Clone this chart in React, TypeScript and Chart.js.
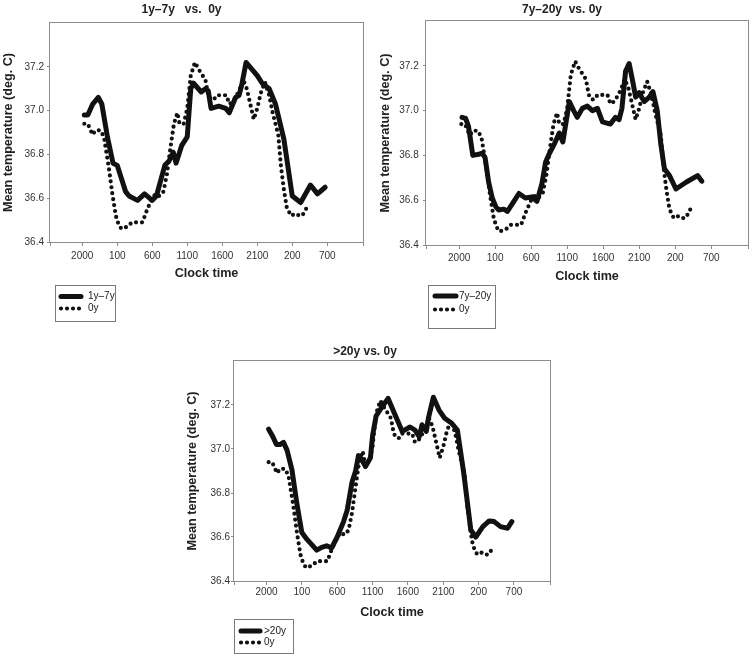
import React, { useEffect, useRef } from "react";
import { Chart, registerables } from "chart.js";

Chart.register(...registerables);

const FONT = "'Liberation Sans', Arial, Helvetica, sans-serif";

// x axis: clock hours counted from midnight of day 1 (25 = 01:00 next day)
const tickHours = [20, 25, 30, 35, 40, 45, 50, 55];
const timeTickLabels = ["2000", "100", "600", "1100", "1600", "2100", "200", "700"];
const yTicks = [36.4, 36.6, 36.8, 37.0, 37.2];

const hours0y = [20.3, 20.8, 21.2, 21.5, 21.9, 22.6, 23.1, 23.5, 23.8, 24.3, 24.8, 25.2, 25.6, 26.0, 26.5, 27.1, 27.8, 28.6, 29.3, 30.0, 30.5, 31.0, 31.6, 32.1, 32.6, 33.1, 33.6, 33.9, 34.5, 35.0, 35.5, 36.1, 36.6, 37.2, 37.6, 38.0, 38.4, 38.8, 39.2, 40.0, 40.6, 41.0, 41.5, 41.9, 42.4, 43.0, 43.5, 44.0, 44.5, 45.0, 45.5, 46.1, 46.7, 47.2, 48.0, 48.4, 48.8, 49.2, 49.8, 50.5, 51.0, 51.4, 51.8, 52.1];
const temp0y = [36.94, 36.94, 36.91, 36.89, 36.91, 36.91, 36.88, 36.80, 36.74, 36.62, 36.52, 36.48, 36.46, 36.465, 36.47, 36.49, 36.49, 36.49, 36.55, 36.60, 36.62, 36.61, 36.63, 36.71, 36.83, 36.94, 36.99, 36.94, 36.94, 37.01, 37.16, 37.22, 37.19, 37.16, 37.14, 37.07, 37.05, 37.05, 37.07, 37.07, 37.07, 37.03, 37.04, 37.06, 37.09, 37.14, 37.10, 37.03, 36.96, 37.01, 37.08, 37.13, 37.07, 36.99, 36.89, 36.74, 36.64, 36.56, 36.52, 36.53, 36.52, 36.52, 36.54, 36.56];

const hours1to7 = [20.3, 20.8, 21.5, 22.3, 22.8, 23.6, 24.4, 25.0, 25.5, 26.2, 26.7, 27.9, 28.9, 30.0, 30.6, 31.8, 32.4, 33.0, 33.4, 34.2, 35.0, 35.5, 35.9, 37.0, 37.6, 38.0, 38.4, 39.5, 40.5, 41.0, 41.9, 42.4, 42.8, 43.4, 45.0, 45.7, 46.7, 47.6, 48.8, 50.0, 51.2, 52.6, 53.6, 54.7];
const temp1to7 = [36.98, 36.98, 37.03, 37.06, 37.03, 36.88, 36.76, 36.75, 36.70, 36.63, 36.61, 36.59, 36.62, 36.59, 36.61, 36.75, 36.77, 36.81, 36.76, 36.84, 36.88, 37.10, 37.125, 37.085, 37.10, 37.09, 37.01, 37.02, 37.01, 36.99, 37.06, 37.07, 37.12, 37.22, 37.16, 37.125, 37.10, 37.03, 36.87, 36.61, 36.58, 36.66, 36.62, 36.65];

const hours7to20 = [20.4, 20.9, 21.3, 21.9, 22.7, 23.2, 23.6, 24.1, 24.6, 25.1, 25.5, 26.2, 26.7, 27.4, 28.3, 29.2, 30.1, 30.8, 31.5, 32.0, 32.4, 33.2, 33.9, 34.4, 34.9, 35.3, 35.9, 36.4, 37.1, 37.8, 38.5, 39.2, 39.9, 41.0, 41.7, 42.2, 42.6, 43.1, 43.6, 44.1, 44.5, 45.0, 45.7, 46.4, 46.9, 47.5, 48.0, 48.5, 49.2, 50.1, 51.5, 53.1, 53.7];
const temp7to20 = [36.97, 36.965, 36.93, 36.80, 36.805, 36.81, 36.79, 36.68, 36.61, 36.57, 36.556, 36.56, 36.55, 36.585, 36.63, 36.61, 36.615, 36.595, 36.675, 36.77, 36.80, 36.85, 36.90, 36.86, 36.96, 37.04, 37.00, 36.97, 37.01, 37.02, 37.00, 37.01, 36.95, 36.94, 36.97, 36.96, 37.01, 37.175, 37.21, 37.13, 37.06, 37.08, 37.04, 37.06, 37.085, 37.00, 36.85, 36.74, 36.71, 36.65, 36.68, 36.71, 36.685];

const hoursOver20 = [20.3, 20.9, 21.4, 21.9, 22.4, 22.9, 23.6, 24.3, 25.0, 25.7, 26.4, 27.1, 27.8, 28.5, 29.2, 30.0, 30.9, 31.4, 32.1, 32.6, 33.0, 33.5, 34.0, 34.7, 35.0, 35.5, 36.2, 37.2, 38.3, 39.2, 40.3, 41.0, 41.6, 42.0, 42.6, 42.9, 43.6, 44.4, 45.2, 46.2, 47.0, 47.9, 48.9, 49.6, 50.6, 51.5, 52.2, 53.1, 54.1, 54.7];
const tempOver20 = [37.09, 37.056, 37.02, 37.02, 37.03, 36.995, 36.905, 36.75, 36.62, 36.59, 36.565, 36.54, 36.553, 36.56, 36.55, 36.60, 36.67, 36.72, 36.85, 36.90, 36.97, 36.95, 36.92, 36.96, 37.06, 37.15, 37.185, 37.23, 37.147, 37.08, 37.10, 37.086, 37.056, 37.11, 37.08, 37.14, 37.235, 37.177, 37.14, 37.117, 37.086, 36.89, 36.632, 36.60, 36.647, 36.673, 36.67, 36.647, 36.64, 36.67];

const X_MIN = 15.4;
const X_MAX = 60.1;

const SOLID_W = 5;
const DOT_W = 4.2;
const DOT_GAP = 6;

type PanelCfg = {
  title: string;
  label: string;
  hours: number[];
  temps: number[];
  left: number;
  top: number;
  w: number;
  h: number;
  area: { l: number; r: number; t: number; b: number };
  titlePad: { top: number; bottom: number };
  xTickPad: number;
  yTickPad: number;
  yTitlePad: number;
  legend: { l: number; r: number; t: number; b: number; sx0: number; sx1: number; y1: number; y2: number; tx: number };
};

const panels: PanelCfg[] = [
  {
    title: "1y\u20137y   vs.  0y",
    label: "1y\u20137y",
    hours: hours1to7,
    temps: temp1to7,
    left: 0, top: 0, w: 376, h: 330,
    area: { l: 50, r: 363, t: 23, b: 242 },
    titlePad: { top: 2.3, bottom: 6.3 },
    xTickPad: 4.5,
    yTickPad: 3,
    yTitlePad: 1.2,
    legend: { l: 55, r: 115, t: 285, b: 321, sx0: 61, sx1: 81, y1: 296.5, y2: 308.5, tx: 88 },
  },
  {
    title: "7y\u201320y  vs. 0y",
    label: "7y\u201320y",
    hours: hours7to20,
    temps: temp7to20,
    left: 376, top: 0, w: 376, h: 330,
    area: { l: 50, r: 372, t: 21, b: 245 },
    titlePad: { top: 2, bottom: 4.6 },
    xTickPad: 3.3,
    yTickPad: 4.3,
    yTitlePad: 2.4,
    legend: { l: 52, r: 119, t: 285, b: 328, sx0: 59, sx1: 80, y1: 296, y2: 309.5, tx: 83 },
  },
  {
    title: ">20y vs. 0y",
    label: ">20y",
    hours: hoursOver20,
    temps: tempOver20,
    left: 180, top: 330, w: 380, h: 327,
    area: { l: 54, r: 370, t: 31, b: 251 },
    titlePad: { top: 14.5, bottom: 2.1 },
    xTickPad: 1.5,
    yTickPad: 1,
    yTitlePad: 4.9,
    legend: { l: 54, r: 113, t: 289, b: 323, sx0: 61, sx1: 80, y1: 301, y2: 312.5, tx: 84 },
  },
];

function makeDecor(p: PanelCfg) {
  return {
    id: "decor",
    afterDatasetsDraw(chart: any) {
      const { ctx, chartArea } = chart;
      ctx.save();
      ctx.strokeStyle = "#8c8c8c";
      ctx.lineWidth = 1;
      const l = Math.round(chartArea.left) - 0.5;
      const t = Math.round(chartArea.top) - 0.5;
      const r = Math.round(chartArea.right) + 0.5;
      const b = Math.round(chartArea.bottom) + 0.5;
      ctx.strokeRect(l, t, r - l, b - t);
      ctx.restore();
    },
    afterDraw(chart: any) {
      const { ctx } = chart;
      const L = p.legend;
      const ds = chart.data.datasets;
      ctx.save();
      ctx.strokeStyle = "#7a7a7a";
      ctx.lineWidth = 1;
      ctx.strokeRect(L.l + 0.5, L.t + 0.5, L.r - L.l, L.b - L.t);
      ctx.strokeStyle = "#111";
      ctx.lineCap = "round";
      ctx.lineWidth = SOLID_W;
      ctx.setLineDash([]);
      ctx.beginPath();
      ctx.moveTo(L.sx0, L.y1);
      ctx.lineTo(L.sx1, L.y1);
      ctx.stroke();
      ctx.lineWidth = DOT_W;
      ctx.setLineDash([0, DOT_GAP]);
      ctx.beginPath();
      ctx.moveTo(L.sx0, L.y2);
      ctx.lineTo(L.sx1 + 1, L.y2);
      ctx.stroke();
      ctx.setLineDash([]);
      ctx.fillStyle = "#222";
      ctx.font = `10px ${FONT}`;
      ctx.textBaseline = "middle";
      ctx.textAlign = "left";
      ctx.fillText(ds[0].label, L.tx, L.y1);
      ctx.fillText(ds[1].label, L.tx, L.y2);
      ctx.restore();
    },
  };
}

function Panel({ p }: { p: PanelCfg }) {
  const ref = useRef<HTMLCanvasElement | null>(null);
  useEffect(() => {
    if (!ref.current) return;
    const chart = new Chart(ref.current, {
      type: "line",
      data: {
        datasets: [
          {
            label: p.label,
            data: p.hours.map((x, i) => ({ x, y: p.temps[i] })),
            borderColor: "#111",
            backgroundColor: "#111",
            borderWidth: SOLID_W,
            borderJoinStyle: "round",
            borderCapStyle: "round",
            pointRadius: 0,
            tension: 0,
            fill: false,
          },
          {
            label: "0y",
            data: hours0y.map((x, i) => ({ x, y: temp0y[i] })),
            borderColor: "#111",
            backgroundColor: "#111",
            borderWidth: DOT_W,
            borderDash: [0, DOT_GAP],
            borderCapStyle: "round",
            pointRadius: 0,
            tension: 0,
            fill: false,
          },
        ],
      },
      options: {
        responsive: false,
        animation: false,
        devicePixelRatio: 1,
        layout: {
          padding: {
            left: 0,
            top: 0,
            right: p.w - p.area.r,
            bottom: p.h - p.area.b - 40,
          },
        },
        plugins: {
          legend: { display: false },
          tooltip: { enabled: false },
          title: {
            display: true,
            text: p.title,
            color: "#222",
            font: { family: FONT, size: 12, weight: "bold", lineHeight: 1.2 },
            padding: p.titlePad,
          },
        },
        scales: {
          x: {
            type: "linear",
            min: X_MIN,
            max: X_MAX,
            afterBuildTicks: (s: any) => {
              s.ticks = [X_MIN, ...tickHours, X_MAX].map((v) => ({ value: v }));
            },
            afterFit: (s: any) => {
              s.height = 40;
            },
            grid: { drawOnChartArea: false, drawTicks: true, tickLength: 4, color: "#8c8c8c" },
            border: { display: false },
            ticks: {
              autoSkip: false,
              maxRotation: 0,
              padding: p.xTickPad,
              color: "#333",
              font: { family: FONT, size: 10 },
              callback: (v: any) => {
                const i = tickHours.findIndex((t) => Math.abs(t - Number(v)) < 1e-6);
                return i >= 0 ? timeTickLabels[i] : "";
              },
            },
            title: {
              display: true,
              text: "Clock time",
              color: "#222",
              font: { family: FONT, size: 12.6, weight: "bold", lineHeight: 1.2 },
              padding: { top: 0, bottom: 1 },
            },
          },
          y: {
            type: "linear",
            min: 36.4,
            max: 37.4,
            afterBuildTicks: (s: any) => {
              s.ticks = yTicks.map((v) => ({ value: v }));
            },
            afterFit: (s: any) => {
              s.width = p.area.l;
            },
            grid: { drawOnChartArea: false, drawTicks: true, tickLength: 3, color: "#8c8c8c" },
            border: { display: false },
            ticks: {
              padding: p.yTickPad,
              color: "#333",
              font: { family: FONT, size: 10 },
              callback: (v: any) => Number(v).toFixed(1),
            },
            title: {
              display: true,
              text: "Mean temperature (deg. C)",
              color: "#222",
              font: { family: FONT, size: 12.6, weight: "bold", lineHeight: 1.2 },
              padding: { top: p.yTitlePad, bottom: 0 },
            },
          },
        },
      } as any,
      plugins: [makeDecor(p)],
    });
    return () => chart.destroy();
  }, [p]);
  return (
    <canvas
      ref={ref}
      width={p.w}
      height={p.h}
      style={{ position: "absolute", left: p.left, top: p.top, width: p.w, height: p.h, display: "block" }}
    />
  );
}

export default function App() {
  return (
    <div style={{ position: "absolute", left: 0, top: 0, width: 752, height: 657, background: "#fff", overflow: "hidden" }}>
      {panels.map((p, i) => (
        <Panel key={i} p={p} />
      ))}
    </div>
  );
}
